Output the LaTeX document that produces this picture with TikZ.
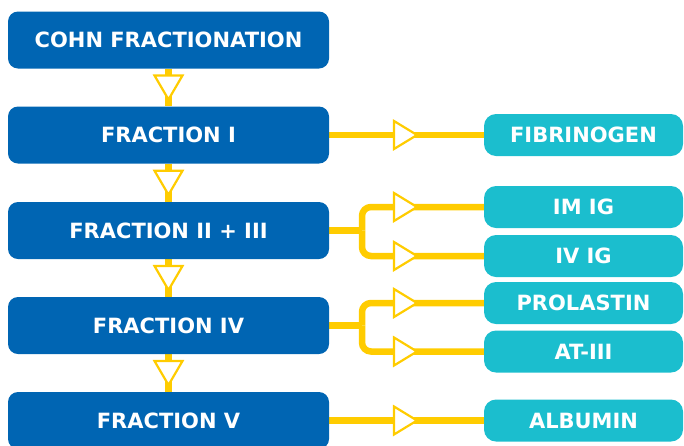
\documentclass[tikz,border=0pt]{standalone}
\usepackage{fontspec}
\setmainfont{DejaVu Sans}
\usetikzlibrary{calc,backgrounds}
\definecolor{dblue}{RGB}{0,101,179}
\definecolor{cyanb}{RGB}{27,190,206}
\definecolor{ylw}{RGB}{255,204,0}
\tikzset{
  fracbox/.style={draw=none, fill=dblue, rounded corners=10pt, minimum width=321pt, minimum height=57pt, text=white, font=\fontsize{21}{25}\selectfont\bfseries, inner sep=0pt},
  prodbox/.style={draw=none, fill=cyanb, rounded corners=12pt, minimum width=199pt, minimum height=42pt, text=white, font=\fontsize{21}{25}\selectfont\bfseries, inner sep=0pt},
  conn/.style={draw=ylw, line width=6.5pt},
  branch/.style={draw=ylw, line width=6.5pt, rounded corners=9pt},
  triright/.pic={\draw[ylw, line width=2.2pt, fill=white, line join=miter] (-11.5,-14) -- (11.5,0) -- (-11.5,14) -- cycle;},
  tridown/.pic={\draw[ylw, line width=2.2pt, fill=white, line join=miter] (-14,-12) -- (0,12) -- (14,-12) -- cycle;}
}
\begin{document}
\begin{tikzpicture}[x=1pt,y=-1pt]
\useasboundingbox (0,0) rectangle (684,445);
\clip (0,0) rectangle (684,445);
% left boxes
\node[fracbox] (f0) at (168.5,40) {COHN FRACTIONATION};
\node[fracbox] (f1) at (168.5,135) {FRACTION I};
\node[fracbox] (f2) at (168.5,230.5) {FRACTION II + III};
\node[fracbox] (f3) at (168.5,325.5) {FRACTION IV};
\node[fracbox] (f4) at (168.5,420.5) {FRACTION V};
% right boxes
\node[prodbox] (p1) at (583.5,135) {FIBRINOGEN};
\node[prodbox] (p2) at (583.5,207) {IM IG};
\node[prodbox] (p3) at (583.5,256) {IV IG};
\node[prodbox] (p4) at (583.5,303) {PROLASTIN};
\node[prodbox] (p5) at (583.5,351.5) {AT-III};
\node[prodbox] (p6) at (583.5,420.5) {ALBUMIN};
% fork coordinates
\coordinate (k2) at (362,230.5);
\coordinate (k3) at (362,325.5);
\begin{pgfonlayer}{background}
% vertical connectors
\foreach \a/\b in {f0/f1,f1/f2,f2/f3,f3/f4}{
  \draw[conn] (\a.south) -- (\b.north);
}
% horizontal connectors
\draw[conn] (f1.east) -- (p1.west);
\draw[conn] (f4.east) -- (p6.west);
\draw[conn] (f2.east) -- (k2);
\draw[branch] (k2) |- (p2.west);
\draw[branch] (k2) |- (p3.west);
\draw[conn] (f3.east) -- (k3);
\draw[branch] (k3) |- (p4.west);
\draw[branch] (k3) |- (p5.west);
\end{pgfonlayer}
% arrow heads
\foreach \a/\b in {f0/f1,f1/f2,f2/f3,f3/f4}{
  \pic at ($(\a.south)!0.5!(\b.north)$) {tridown};
}
\foreach \p in {p1,p2,p3,p4,p5,p6}{
  \pic at (405.5,0 |- \p.west) {triright};
}
\end{tikzpicture}
\end{document}
